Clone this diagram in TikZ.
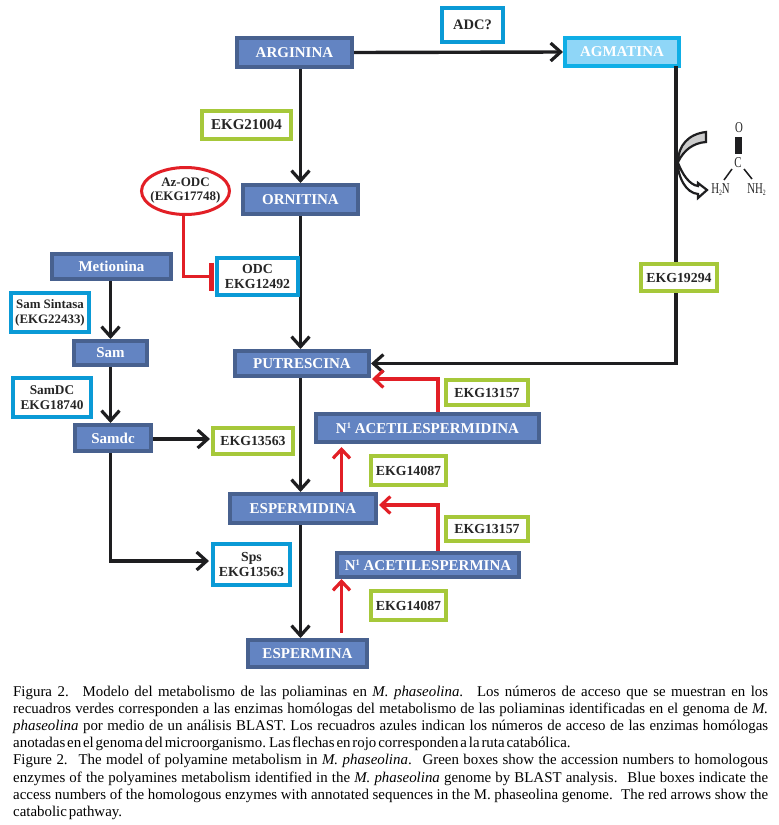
\documentclass[tikz,border=0pt]{standalone}
\usepackage{fontspec}
\setmainfont{Liberation Serif}
\newfontfamily\capfont[WordSpace=0.5]{Liberation Serif}
\newfontfamily\chemfont[FakeStretch=0.72]{Liberation Serif}
\usetikzlibrary{arrows.meta, shapes.geometric}
\definecolor{metfill}{HTML}{6384C2}
\definecolor{metline}{HTML}{48618F}
\definecolor{agmfill}{HTML}{8FD6F7}
\definecolor{agmline}{HTML}{0FAEE6}
\definecolor{bluebox}{HTML}{0A9AD6}
\definecolor{greenbox}{HTML}{A6C83A}
\definecolor{redline}{HTML}{E21F26}
\definecolor{blackline}{HTML}{1E1E20}
\tikzset{
	metab/.style={draw=metline, fill=metfill, line width=3.6pt, text=white, inner sep=0pt, font=\fontsize{15}{16}\selectfont\bfseries},
	enzbox/.style={fill=white, line width=3.6pt, inner sep=0pt, align=center, text=black!85, font=\fontsize{13.8}{15}\selectfont\bfseries},
	blueenz/.style={enzbox, draw=bluebox},
	greenenz/.style={enzbox, draw=greenbox},
	flow/.style={draw=blackline, line width=3.4pt, -{Straight Barb[length=10pt, width=18pt, line width=3.2pt]}},
	redflow/.style={flow, draw=redline, -{Straight Barb[length=9pt, width=17pt, line width=3.2pt]}},
	chem/.style={inner sep=0pt, font=\fontsize{15}{15}\selectfont\chemfont, text=black!85}
}
% caja con tamano exterior en px
\newcommand{\pathbox}[7]{\node[#1, minimum width=#4pt-#2pt-3.6pt, minimum height=#5pt-#3pt-3.6pt] (#6) at ({(#2+#4)/2},{(#3+#5)/2}) {#7};}
\newcommand{\supuno}{\raisebox{5pt}{\fontsize{8.5}{8.5}\selectfont 1}}
\newcommand{\subdos}{\raisebox{-2pt}{\fontsize{8}{8}\selectfont 2}}
\begin{document}
\begin{tikzpicture}[x=1pt, y=-1pt]
	\useasboundingbox (0,0) rectangle (779,825);

	% Puntos libres
	\coordinate (agmaSur) at (676,66);
	\coordinate (spsOeste) at (209,561);
	\coordinate (ekgOeste) at (210,439);
	\coordinate (rojoA) at (438,412);
	\coordinate (rojoB) at (372,379);
	\coordinate (rojoC) at (341.5,492);
	\coordinate (rojoD) at (341.5,447);
	\coordinate (rojoE) at (438,551);
	\coordinate (rojoF) at (379,505);
	\coordinate (rojoG) at (341.5,633);
	\coordinate (rojoH) at (341.5,579);
	\coordinate (azoSur) at (183.5,214);
	\coordinate (odcOeste) at (214,276.5);

	% Metabolitos
	\pathbox{metab}{235}{36}{354}{69}{arginina}{ARGININA}
	\pathbox{metab}{241}{183}{360}{216}{ornitina}{ORNITINA}
	\pathbox{metab}{233}{349}{371}{378}{putrescina}{PUTRESCINA}
	\pathbox{metab}{228}{492}{378}{525}{espermidina}{ESPERMIDINA}
	\pathbox{metab}{246}{638}{369}{669}{espermina}{ESPERMINA}
	\pathbox{metab}{50}{252}{173}{281}{metionina}{Metionina}
	\pathbox{metab}{72}{339}{149}{367}{sam}{Sam}
	\pathbox{metab}{73}{423}{153}{453}{samdc}{Samdc}
	\pathbox{metab}{314}{412}{541}{444}{acetilespermidina}{N\supuno\ ACETILESPERMIDINA}
	\pathbox{metab}{335}{551}{521}{579}{acetilespermina}{N\supuno\ ACETILESPERMINA}
	\pathbox{metab, draw=agmline, fill=agmfill}{563}{36}{681}{68}{agmatina}{AGMATINA}

	% Flechas negras
	\draw[flow] (ornitina.north |- arginina.south) -- (ornitina.north);
	\draw[flow] (ornitina.south) -- (ornitina.south |- putrescina.north);
	\draw[flow] (ornitina.south |- putrescina.south) -- (ornitina.south |- espermidina.north);
	\draw[flow] (ornitina.south |- espermidina.south) -- (ornitina.south |- espermina.north);
	\draw[flow] (arginina.east) -- (agmatina.west);
	\draw[flow] (agmaSur) |- (putrescina.east);
	\draw[flow] (sam.north |- metionina.south) -- (sam.north);
	\draw[flow] (sam.south) -- (sam.south |- samdc.north);
	\draw[flow] (samdc.east |- ekgOeste) -- (ekgOeste);
	\draw[flow] (sam.south |- samdc.south) |- (spsOeste);

	% Flechas rojas
	\draw[redflow] (rojoA) |- (rojoB);
	\draw[redflow] (rojoC) -- (rojoD);
	\draw[redflow] (rojoE) |- (rojoF);
	\draw[redflow] (rojoG) -- (rojoH);

	% Enzimas
	\pathbox{blueenz, font=\fontsize{14.5}{15}\selectfont\bfseries}{440}{6}{505}{44}{adc}{ADC?}
	\pathbox{greenenz, font=\fontsize{15}{15}\selectfont\bfseries}{200}{109}{293}{141}{ekgA}{EKG21004}
	\pathbox{blueenz}{215}{256}{300}{297}{odc}{ODC\\EKG12492}
	\pathbox{blueenz, font=\fontsize{12.9}{15}\selectfont\bfseries}{9}{291}{91}{334}{samsintasa}{Sam Sintasa\\(EKG22433)}
	\pathbox{blueenz, font=\fontsize{13.3}{15}\selectfont\bfseries}{11}{376}{93}{419}{samdcenz}{SamDC\\EKG18740}
	\pathbox{greenenz}{211}{426}{295}{456}{ekgB}{EKG13563}
	\pathbox{blueenz}{211}{542}{292}{587}{sps}{Sps\\EKG13563}
	\pathbox{greenenz}{444}{378}{530}{407}{ekgC}{EKG13157}
	\pathbox{greenenz}{369}{454}{448}{487}{ekgD}{EKG14087}
	\pathbox{greenenz}{444}{515}{530}{543}{ekgE}{EKG13157}
	\pathbox{greenenz}{369}{589}{448}{622}{ekgF}{EKG14087}
	\pathbox{greenenz}{639}{262}{719}{293}{ekgG}{EKG19294}

	% Inhibidor
	\node[draw=redline, fill=white, line width=3pt, ellipse, inner ysep=0pt, inner xsep=-7pt, minimum width=88pt, minimum height=47pt, align=center, text=black!85, font=\fontsize{13}{14}\selectfont\bfseries] (azodc) at (185.5,191) {Az-ODC\\(EKG17748)};
	\draw[redline, line width=3.4pt, -{Bar[width=28pt, line width=5pt]}] (azoSur) |- (odcOeste);

	% Grupo urea
	\draw[fill=black!20, draw=blackline, line width=2.2pt] (706,132) -- (706,142) .. controls (693,143) and (684,150) .. (678,162) .. controls (678,146) and (688,134) .. (706,132) -- cycle;
	\draw[fill=white, draw=blackline, line width=2.2pt] (677,160) .. controls (678,178) and (686,193) .. (698,194) -- (698,198) -- (707,190) -- (698,183) -- (698,186) .. controls (690,185) and (682,175) .. (677,160) -- cycle;
	\node[chem] (oxi) at (739,128) {O};
	\node[chem] (carb) at (738,163) {C};
	\node[chem] (hn) at (720.5,190) {H\subdos N};
	\node[chem] (nh) at (756.5,190) {NH\subdos};
	\fill[blackline] (735,137) rectangle (742,154);
	\draw[blackline, line width=1.5pt] (732,169) -- (724,180);
	\draw[blackline, line width=1.5pt] (744,169) -- (752,179);

	% Pie de figura
	\node[inner sep=0pt, anchor=north west, text width=755pt, align=justify, font=\fontsize{14.9}{17.2}\selectfont\capfont] (caption) at (13,685.5) {Figura 2. Modelo del metabolismo de las poliaminas en \textit{M. phaseolina}. Los números de acceso que se muestran en los\linebreak recuadros verdes corresponden a las enzimas homólogas del metabolismo de las poliaminas identificadas en el genoma de \textit{M.}\linebreak \textit{phaseolina} por medio de un análisis BLAST. Los recuadros azules indican los números de acceso de las enzimas homólogas\linebreak anotadas en el genoma del microorganismo. Las flechas en rojo corresponden a la ruta catabólica.\\
	Figure 2. The model of polyamine metabolism in \textit{M. phaseolina}. Green boxes show the accession numbers to homologous\linebreak enzymes of the polyamines metabolism identified in the \textit{M. phaseolina} genome by BLAST analysis. Blue boxes indicate the\linebreak access numbers of the homologous enzymes with annotated sequences in the M. phaseolina genome. The red arrows show the\linebreak catabolic pathway.};
\end{tikzpicture}
\end{document}
